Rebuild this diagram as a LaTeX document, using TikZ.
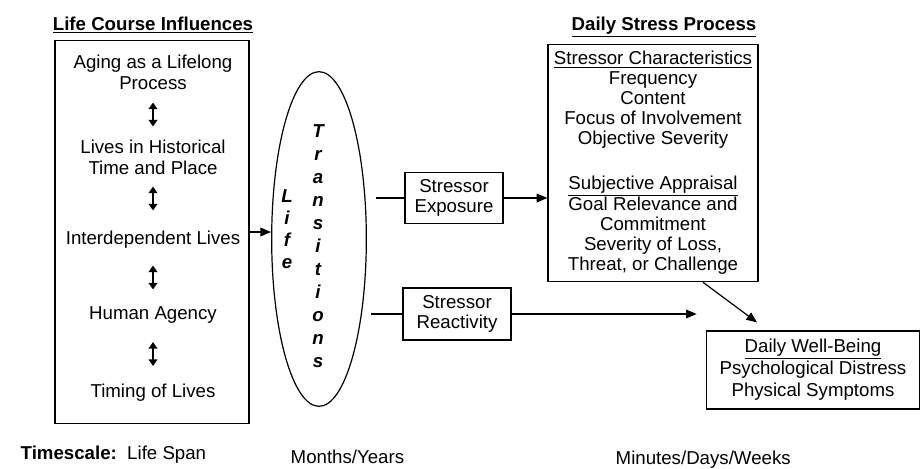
\documentclass[tikz,border=0pt]{standalone}
\usepackage{fontspec}
\setmainfont{Liberation Sans}
\usetikzlibrary{shapes.geometric,arrows.meta,calc}

\begin{document}
\begin{tikzpicture}[
        x=0.75pt, y=-0.75pt,
        every node/.style={font=\fontsize{14}{15.5}\selectfont, align=center},
        boxed/.style={draw, line width=0.9pt, inner sep=0pt},
        heading/.style={font=\fontsize{14}{16}\selectfont\bfseries},
        letters/.style={font=\fontsize{14}{#1}\selectfont\bfseries\itshape},
        link/.style={line width=0.9pt},
        arr/.style={line width=0.9pt, -{Triangle[length=8pt,width=6.5pt]}},
        dbl/.style={line width=1.3pt, {Triangle[length=5pt,width=6.5pt]}-{Triangle[length=5pt,width=6.5pt]}}
    ]
    \useasboundingbox (0,0) rectangle (921,468);

    \node[heading] (lctitle) at (153,25) {\underline{Life Course Influences}};
    \node[boxed, minimum width=145.5pt, minimum height=287pt] (lcbox) at (152,232) {};
    \node (aging) at (153,72) {Aging as a Lifelong\\Process};
    \node (hist) at (153,157) {Lives in Historical\\Time and Place};
    \node (inter) at (153,240) {Interdependent Lives};
    \node (agency) at (153,315) {Human Agency};
    \node (timing) at (153,393) {Timing of Lives};
    \foreach \a/\b in {aging/hist,hist/inter,inter/agency,agency/timing}
        \draw[dbl] ($(\a)!.5!(\b)+(0,-12)$) -- ($(\a)!.5!(\b)+(0,12)$);

    \node[draw, ellipse, line width=0.9pt, inner sep=0pt,
          minimum width=71pt, minimum height=251pt] (trans) at (319,239) {};
    \node[letters=16.5] (lifeword) at (287,229) {L\\i\\f\\e};
    \node[letters=17.25] (transword) at (318,246) {T\\r\\a\\n\\s\\i\\t\\i\\o\\n\\s};

    \node[boxed, minimum width=73.5pt, minimum height=38pt] (expo) at (454,198) {Stressor\\Exposure};
    \node[boxed, minimum width=81pt, minimum height=39pt] (reac) at (457,314) {Stressor\\Reactivity};

    \node[heading] (dsptitle) at (664,27) {\underline{Daily Stress Process}};
    \node[boxed, minimum width=157.5pt, minimum height=178pt,
          font=\fontsize{14}{15}\selectfont] (stress) at (653,163)
        {\underline{Stressor Characteristics}\\Frequency\\Content\\Focus of Involvement\\Objective Severity\\[18.5pt]
         \underline{Subjective Appraisal}\\Goal Relevance and\\Commitment\\Severity of Loss,\\Threat, or Challenge};

    \node[boxed, minimum width=160pt, minimum height=58.5pt,
          font=\fontsize{14}{16.5}\selectfont] (well) at (813,370)
        {\underline{Daily Well-Being}\\Psychological Distress\\Physical Symptoms};

    \draw[arr] (lcbox.east) -- (lcbox.east -| trans.west);
    \draw[link] ($(trans.east |- expo.west)+(9,0)$) -- (expo.west);
    \draw[arr] (expo.east) -- (expo.east -| stress.west);
    \draw[link] ($(trans.east |- reac.west)+(4,0)$) -- (reac.west);
    \draw[arr] (reac.east) -- ($(reac.east -| well.west)+(-9,0)$);
    \draw[arr] ($(stress.south)+(50,0)$) -- ($(well.north)+(-56,-8)$);

    \node[anchor=west] (tscale) at (16,455) {\textbf{Timescale:}\ \ Life Span};
    \node[anchor=west] (months) at (286,457) {Months/Years};
    \node[anchor=west] (minutes) at (611,460) {Minutes/Days/Weeks};
\end{tikzpicture}
\end{document}
